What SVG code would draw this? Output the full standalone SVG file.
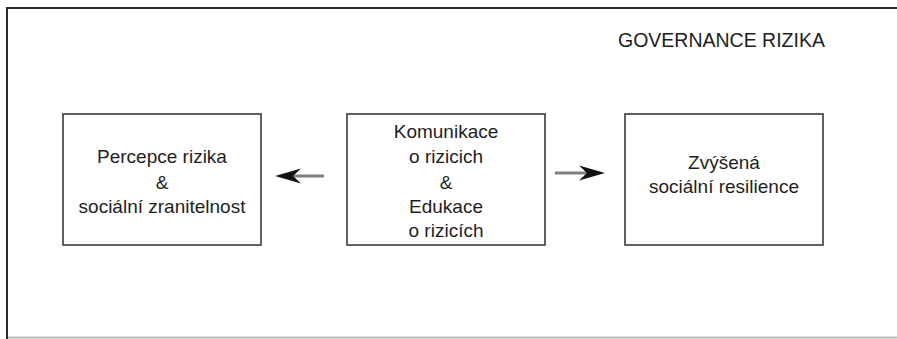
<svg xmlns="http://www.w3.org/2000/svg" width="897" height="339" viewBox="0 0 897 339">
  <style>
    .frame-dark { stroke: #2b2b2b; stroke-width: 2; fill: none; }
    .frame-light { stroke: #b8b8b8; stroke-width: 2; fill: none; }
    .box { fill: #ffffff; stroke: #3a3a3a; stroke-width: 1.6; }
    .label { font-family: "Liberation Sans", Arial, sans-serif; font-size: 19px; fill: #1e1e1e; text-anchor: middle; }
    .title { font-family: "Liberation Sans", Arial, sans-serif; font-size: 19.5px; fill: #1e1e1e; }
    .conn { stroke: #808080; stroke-width: 3; fill: none; }
  </style>
  <defs>
    <marker id="barb" markerUnits="userSpaceOnUse" markerWidth="26" markerHeight="18" viewBox="0 0 26 18" refX="11" refY="9" orient="auto">
      <path d="M0,1.5 L26,9 L0,16.5 L8,9 Z" fill="#111111"/>
    </marker>
  </defs>
  <rect width="897" height="339" fill="#ffffff"/>
  <g id="frame">
    <path class="frame-light" d="M7,337.5 H897"/>
    <path class="frame-dark" d="M7,339 V8 H897"/>
  </g>
  <text id="title" class="title" x="618" y="47">GOVERNANCE RIZIKA</text>
  <g id="node-percepce">
    <rect class="box" x="63" y="114" width="198" height="131"/>
    <text class="label" x="162" y="163">Percepce rizika</text>
    <text class="label" x="162" y="189">&amp;</text>
    <text class="label" x="162" y="213">sociální zranitelnost</text>
  </g>
  <g id="node-komunikace">
    <rect class="box" x="347" y="114" width="198" height="131"/>
    <text class="label" x="446" y="138">Komunikace</text>
    <text class="label" x="446" y="163">o rizicich</text>
    <text class="label" x="446" y="189">&amp;</text>
    <text class="label" x="446" y="213">Edukace</text>
    <text class="label" x="446" y="237">o rizicích</text>
  </g>
  <g id="node-resilience">
    <rect class="box" x="625" y="114" width="198" height="131"/>
    <text class="label" x="724" y="169">Zvýšená</text>
    <text class="label" x="724" y="193">sociální resilience</text>
  </g>
  <g id="connectors">
    <line class="conn" x1="324" y1="176" x2="290" y2="176" marker-end="url(#barb)"/>
    <line class="conn" x1="555" y1="173" x2="590" y2="173" marker-end="url(#barb)"/>
  </g>
</svg>
